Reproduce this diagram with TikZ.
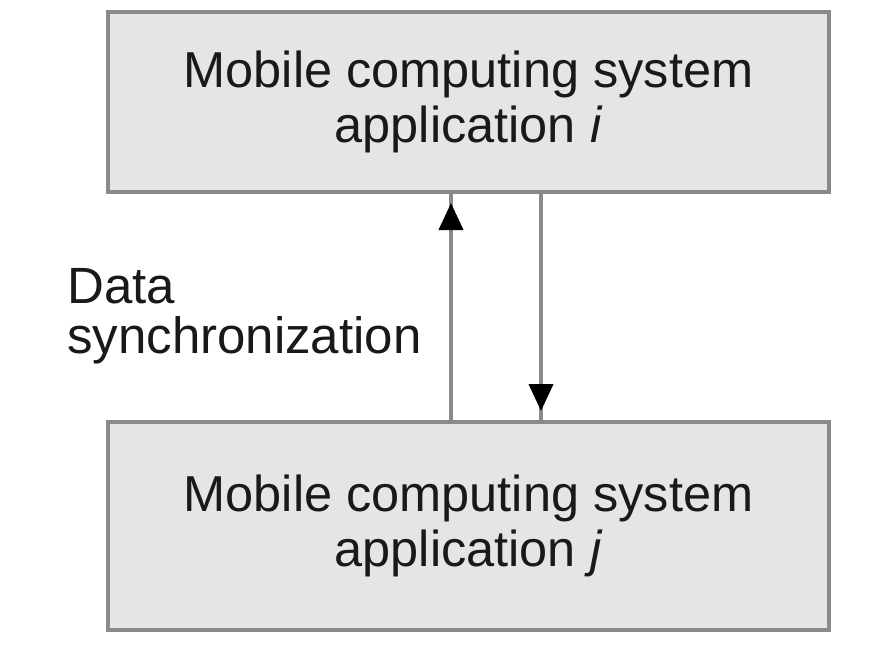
\documentclass[tikz,border=0pt]{standalone}
\usepackage{fontspec}
\setmainfont{Liberation Sans}
\usetikzlibrary{arrows.meta}
\definecolor{boxfill}{HTML}{E5E5E5}
\definecolor{edgegray}{HTML}{8A8A8A}
\tikzset{
  appbox/.style={draw=edgegray, line width=4pt, fill=boxfill, minimum width=721pt, inner sep=0pt,
    align=center, font=\fontsize{50.5}{55}\selectfont, text=black!90},
  conn/.style={draw=edgegray, line width=4pt},
  tip/.style={-{Triangle[length=27pt,width=24pt,color=black]}, shorten >=9pt},
  lbl/.style={align=left, font=\fontsize{51}{50}\selectfont, text=black!90, inner sep=0pt}
}
\begin{document}
\begin{tikzpicture}[x=1pt,y=-1pt]
\useasboundingbox[fill=white] (0,0) rectangle (882,664);
\node[appbox, minimum height=180pt] (top) at (468.5,102) {Mobile computing system\\application \textit{i}};
\node[appbox, minimum height=208pt] (bot) at (468.5,526) {Mobile computing system\\application \textit{j}};
\coordinate (upx) at (451,0);
\coordinate (dnx) at (541,0);
\draw[conn] (bot.north -| upx) -- (top.south -| upx);
\draw[conn, tip] (bot.north -| upx) -- (top.south -| upx);
\draw[conn] (top.south -| dnx) -- (bot.north -| dnx);
\draw[conn, tip] (top.south -| dnx) -- (bot.north -| dnx);
\node[lbl, anchor=west] (sync) at (67,316) {Data\\synchronization};
\end{tikzpicture}
\end{document}
